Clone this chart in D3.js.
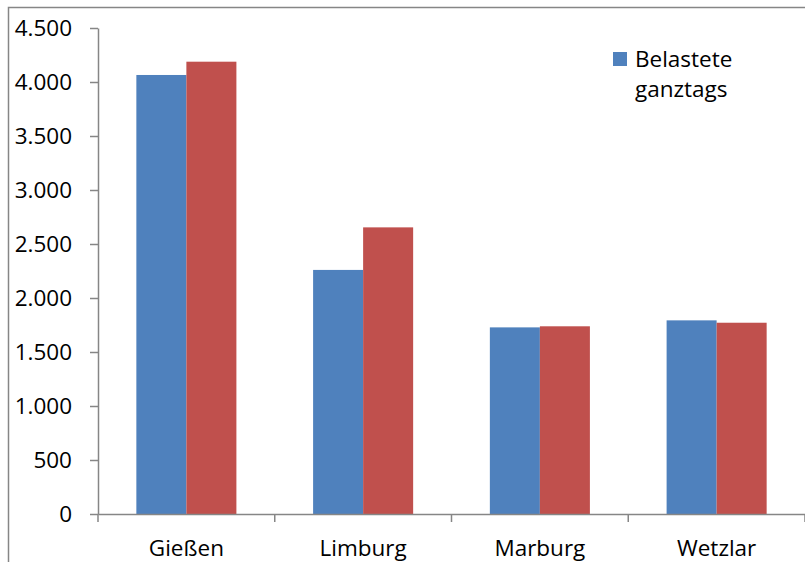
<!DOCTYPE html>
<html>
<head>
<meta charset="utf-8">
<script src="https://cdn.jsdelivr.net/npm/d3@7"></script>
<style>
  html, body { margin: 0; padding: 0; background: #fff; }
  svg { display: block; }
  svg text { font-family: "Open Sans", "Liberation Sans", sans-serif; }
</style>
</head>
<body>
<svg id="chart" width="805" height="562"></svg>
<script>
// Categories and series values
const categories = ["Gießen", "Limburg", "Marburg", "Wetzlar"];
const belasteteGanztags = [4065, 2260, 1728, 1793];
const vergleichswerte = [4188, 2654, 1738, 1771];
const seriesNames = ["Belastete ganztags", "Vergleich"];
const yTicks = [0, 500, 1000, 1500, 2000, 2500, 3000, 3500, 4000, 4500];

const colors = ["#4F81BD", "#C0504D"];
const axisColor = "#868686";
const fontSize = "22.5px";

const svg = d3.select("#chart");
const W = 805, H = 562;
const plot = { left: 98, right: 805, top: 28, bottom: 514 };

// German thousands separator
const fmt = d3.formatLocale({ decimal: ",", thousands: ".", grouping: [3], currency: ["", " €"] }).format(",d");

// Outer frame
svg.append("path")
  .attr("d", `M8.5,${H} V7.5 H${W}`)
  .attr("fill", "none")
  .attr("stroke", axisColor)
  .attr("stroke-width", 1.5);

const x = d3.scaleBand()
  .domain(categories)
  .range([plot.left, plot.right])
  .paddingInner(0)
  .paddingOuter(0);

const groupPad = 0.217; // gap on each side of a bar group, as a share of the category width
const x1 = d3.scaleBand()
  .domain(d3.range(seriesNames.length))
  .range([x.bandwidth() * groupPad, x.bandwidth() * (1 - groupPad)]);

const y = d3.scaleLinear().domain([0, 4500]).range([plot.bottom, plot.top]);

const seriesValues = [belasteteGanztags, vergleichswerte];

// Bars
const groups = svg.append("g").selectAll("g")
  .data(categories)
  .join("g")
  .attr("transform", d => `translate(${x(d)},0)`);

groups.selectAll("rect")
  .data((c, i) => seriesValues.map((vals, s) => ({ s, v: vals[i] })))
  .join("rect")
  .attr("x", d => x1(d.s))
  .attr("width", x1.bandwidth())
  .attr("y", d => y(d.v))
  .attr("height", d => y(0) - y(d.v))
  .attr("fill", d => colors[d.s]);

// Y axis
const yAxis = svg.append("g")
  .attr("transform", `translate(${plot.left},0)`)
  .call(d3.axisLeft(y).tickValues(yTicks).tickFormat(fmt).tickSize(8).tickSizeOuter(0))
  .attr("font-family", null)
  .attr("font-size", null);
yAxis.select(".domain").attr("stroke", axisColor).attr("stroke-width", 1.5);
yAxis.selectAll(".tick line").attr("stroke", axisColor).attr("stroke-width", 1.5);
yAxis.selectAll(".tick text")
  .attr("x", -26)
  .attr("dy", "0.34em")
  .attr("fill", "#000")
  .style("font-size", fontSize);

// X axis
const xAxis = svg.append("g")
  .attr("transform", `translate(0,${plot.bottom})`)
  .call(d3.axisBottom(x).tickSize(0).tickSizeOuter(0))
  .attr("font-family", null)
  .attr("font-size", null);
xAxis.select(".domain").attr("stroke", axisColor).attr("stroke-width", 1.5);
xAxis.selectAll(".tick text")
  .attr("y", 42)
  .attr("dy", 0)
  .attr("fill", "#000")
  .style("font-size", fontSize);

// Category boundary ticks
const boundaries = categories.map(c => x(c)).concat([x.range()[1]]);
svg.append("g").selectAll("line")
  .data(boundaries)
  .join("line")
  .attr("x1", d => d).attr("x2", d => d)
  .attr("y1", plot.bottom).attr("y2", plot.bottom + 8)
  .attr("stroke", axisColor)
  .attr("stroke-width", 1.5);

// Legend
const legend = svg.append("g").attr("transform", "translate(613,52)");
legend.append("rect")
  .attr("width", 14).attr("height", 14)
  .attr("fill", colors[0]);
legend.append("text")
  .attr("x", 22).attr("y", 15)
  .style("font-size", fontSize)
  .attr("fill", "#000")
  .selectAll("tspan")
  .data(seriesNames[0].split(" "))
  .join("tspan")
  .attr("x", 22)
  .attr("dy", (d, i) => i === 0 ? 0 : 30)
  .text(d => d);
</script>
</body>
</html>
